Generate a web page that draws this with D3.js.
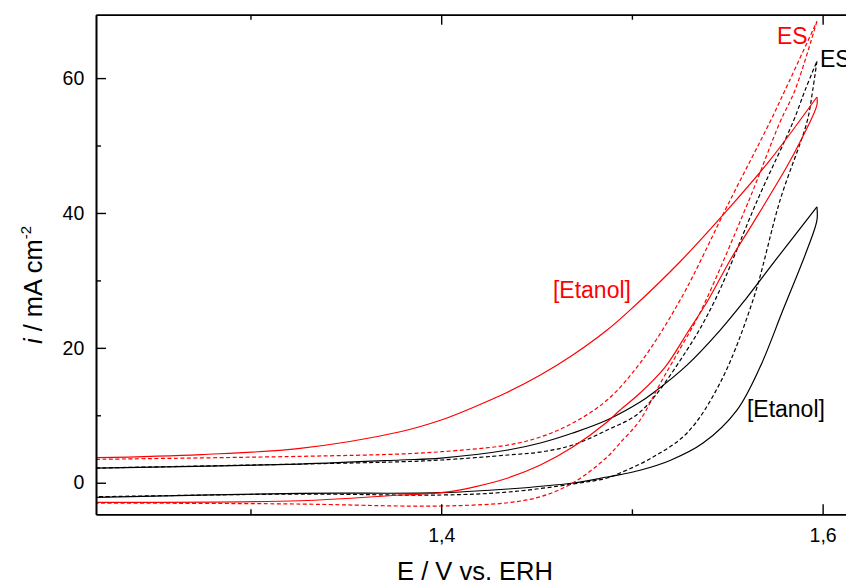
<!DOCTYPE html>
<html>
<head>
<meta charset="utf-8">
<script src="https://cdn.jsdelivr.net/npm/d3@7"></script>
<style>
  html, body { margin: 0; padding: 0; background: #fff; }
  svg { display: block; font-family: "Liberation Sans", Arial, Helvetica, sans-serif; }
</style>
</head>
<body>
<svg id="chart" width="846" height="583"></svg>
<script>
// ---- data (E / V vs. ERH, i / mA cm^-2) ----
const xMajorTicks = [1.4, 1.6];
const xMinorTicks = [1.3, 1.5];
const yMajorTicks = [0, 20, 40, 60];
const yMinorTicks = [10, 30, 50];

// [Etanol] red (solid): forward and reverse branches
const redSolidFwd = [[1.219,3.71],[1.274,4.18],[1.326,5.10],[1.3785,7.56],[1.40,9.30],[1.417,11.2],[1.435,13.45],[1.452,15.97],[1.469,18.94],[1.487,22.64],[1.499,25.6],[1.525,32.7],[1.5515,40.9],[1.5724,47.84],[1.597,57.2]];
const redSolidRev = [[1.597,57.2],[1.597,56.0],[1.5882,50.56],[1.5812,46.85],[1.5635,38.5],[1.5515,33.0],[1.540,27.1],[1.529,22.2],[1.5174,17.15],[1.5043,13.3],[1.4938,10.78],[1.487,9.0],[1.469,5.29],[1.452,2.62],[1.435,0.70],[1.417,-0.64],[1.40,-1.48],[1.3785,-1.82],[1.326,-2.67],[1.219,-2.91]];

// ES red (dashed)
const redDashFwd = [[1.219,3.47],[1.326,3.91],[1.3785,4.26],[1.40,4.60],[1.435,5.59],[1.452,6.78],[1.469,8.85],[1.487,12.26],[1.5043,17.75],[1.5253,27.09],[1.5515,41.9],[1.5724,53.5],[1.5803,58.2],[1.597,68.4]];
const redDashRev = [[1.597,68.4],[1.5855,58.2],[1.5777,53.5],[1.5614,41.9],[1.5357,25.2],[1.5253,19.9],[1.5148,14.7],[1.5043,9.30],[1.4938,5.9],[1.487,3.81],[1.469,-0.04],[1.452,-2.08],[1.435,-2.97],[1.417,-3.31],[1.40,-3.45],[1.3785,-3.45],[1.326,-3.16],[1.219,-3.01]];

// [Etanol] black (solid)
const blackSolidFwd = [[1.219,2.18],[1.326,2.77],[1.3785,3.37],[1.40,3.66],[1.435,4.85],[1.452,5.89],[1.469,7.37],[1.487,9.30],[1.5043,11.96],[1.5111,13.3],[1.5289,17.44],[1.5462,22.6],[1.5593,27.09],[1.5761,33.3],[1.597,40.9]];
const blackSolidRev = [[1.597,40.9],[1.597,38.9],[1.5918,34.5],[1.5792,25.6],[1.5672,17.15],[1.5551,10.78],[1.5373,5.88],[1.520,3.3],[1.5043,1.85],[1.4938,1.2],[1.487,0.85],[1.469,-0.04],[1.435,-0.93],[1.40,-1.48],[1.326,-1.57],[1.219,-2.16]];

// ES black (dashed)
const blackDashFwd = [[1.219,2.18],[1.326,2.77],[1.3785,3.11],[1.40,3.37],[1.435,4.11],[1.452,4.55],[1.469,5.59],[1.487,7.81],[1.5043,10.48],[1.5289,19.7],[1.5436,27.09],[1.5658,41.9],[1.5845,53.5],[1.5908,58.2],[1.597,62.5]];
const blackDashRev = [[1.597,62.5],[1.5948,58.2],[1.5918,53.5],[1.5777,41.9],[1.5635,27.09],[1.5462,14.78],[1.5289,7.37],[1.5111,3.81],[1.4938,1.44],[1.487,0.70],[1.469,-0.19],[1.435,-1.38],[1.40,-1.82],[1.326,-1.68],[1.219,-2.08]];

const seriesList = [
  { name: "[Etanol] preto", branches: [blackSolidFwd, blackSolidRev], color: "#000000", dash: null },
  { name: "ES preto", branches: [blackDashFwd, blackDashRev], color: "#000000", dash: "4,2.5" },
  { name: "ES vermelho", branches: [redDashFwd, redDashRev], color: "#ff0000", dash: "4,2.5" },
  { name: "[Etanol] vermelho", branches: [redSolidFwd, redSolidRev], color: "#ff0000", dash: null }
];

const annotations = [
  { text: "[Etanol]", E: 1.4586, i: 27.4, color: "#ff0000" },
  { text: "[Etanol]", E: 1.5603, i: 9.8, color: "#000000" },
  { text: "ES", E: 1.5761, i: 65.0, color: "#ff0000" },
  { text: "ES", E: 1.5986, i: 61.6, color: "#000000" }
];

// ---- layout ----
const mLeft = 96, mRight = 856, mTop = 14.7, mBottom = 514.3;
const svg = d3.select("#chart");
const x = d3.scaleLinear().domain([1.219, 1.6175]).range([mLeft, mRight]);
const y = d3.scaleLinear().domain([-4.68, 69.4]).range([mBottom, mTop]);
const fmt = d => d3.format(".1f")(d).replace(".", ",");

svg.append("defs").append("clipPath").attr("id", "clip")
  .append("rect").attr("x", mLeft).attr("y", mTop).attr("width", mRight - mLeft).attr("height", mBottom - mTop);

// curves
const line = d3.line().x(d => x(d[0])).y(d => y(d[1])).curve(d3.curveCatmullRom.alpha(0.5));
const plot = svg.append("g").attr("clip-path", "url(#clip)");
seriesList.forEach(s => {
  s.branches.forEach(b => {
    plot.append("path").datum(b)
      .attr("d", line)
      .attr("fill", "none")
      .attr("stroke", s.color)
      .attr("stroke-width", 1.2)
      .attr("stroke-dasharray", s.dash);
  });
});

// axes
function styleAxis(g) {
  g.selectAll("path.domain").attr("stroke", "#000").attr("stroke-width", 1.6);
  g.selectAll(".tick line").attr("stroke", "#000").attr("stroke-width", 1.4);
  g.selectAll(".tick text").attr("fill", "#000").attr("font-size", "19.5px")
    .attr("font-family", "'Liberation Sans', Arial, Helvetica, sans-serif");
}
// bottom
svg.append("g").attr("transform", `translate(0,${mBottom})`)
  .call(d3.axisBottom(x).tickValues(xMinorTicks).tickSize(-5).tickSizeOuter(0).tickFormat(""))
  .call(styleAxis);
svg.append("g").attr("transform", `translate(0,${mBottom})`)
  .call(d3.axisBottom(x).tickValues(xMajorTicks).tickSize(-10).tickSizeOuter(0).tickPadding(13.6).tickFormat(fmt))
  .call(styleAxis);
// top
svg.append("g").attr("transform", `translate(0,${mTop})`)
  .call(d3.axisTop(x).tickValues(xMinorTicks).tickSize(-5).tickSizeOuter(0).tickFormat(""))
  .call(styleAxis);
svg.append("g").attr("transform", `translate(0,${mTop})`)
  .call(d3.axisTop(x).tickValues(xMajorTicks).tickSize(-10).tickSizeOuter(0).tickFormat(""))
  .call(styleAxis);
// left
svg.append("g").attr("transform", `translate(${mLeft},0)`)
  .call(d3.axisLeft(y).tickValues(yMinorTicks).tickSize(-5).tickSizeOuter(0).tickFormat(""))
  .call(styleAxis);
svg.append("g").attr("transform", `translate(${mLeft},0)`)
  .call(d3.axisLeft(y).tickValues(yMajorTicks).tickSize(-10).tickSizeOuter(0).tickPadding(11.7).tickFormat(d3.format("d")))
  .call(styleAxis);
// right
svg.append("g").attr("transform", `translate(${mRight},0)`)
  .call(d3.axisRight(y).tickValues(yMinorTicks).tickSize(-5).tickSizeOuter(0).tickFormat(""))
  .call(styleAxis);
svg.append("g").attr("transform", `translate(${mRight},0)`)
  .call(d3.axisRight(y).tickValues(yMajorTicks).tickSize(-10).tickSizeOuter(0).tickFormat(""))
  .call(styleAxis);

// axis titles
svg.append("text")
  .attr("x", 475).attr("y", 580)
  .attr("text-anchor", "middle")
  .attr("font-size", "25.5px")
  .attr("fill", "#000")
  .text("E / V vs. ERH");

const yt = svg.append("text")
  .attr("transform", "translate(42,285) rotate(-90)")
  .attr("text-anchor", "middle")
  .attr("font-size", "25.5px")
  .attr("fill", "#000");
yt.append("tspan").attr("font-style", "italic").text("i");
yt.append("tspan").text(" / mA cm");
yt.append("tspan").attr("font-size", "15px").attr("dy", -11).text("-2");

// annotations
svg.selectAll("text.anno").data(annotations).enter().append("text")
  .attr("class", "anno")
  .attr("x", d => x(d.E)).attr("y", d => y(d.i))
  .attr("font-size", "23px")
  .attr("fill", d => d.color)
  .text(d => d.text);
</script>
</body>
</html>
